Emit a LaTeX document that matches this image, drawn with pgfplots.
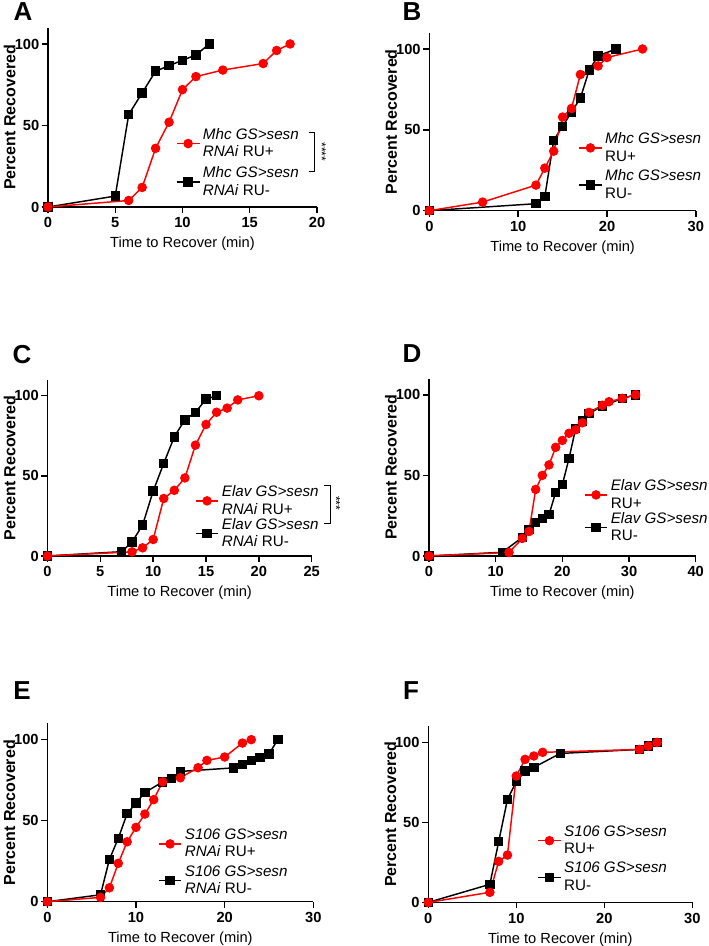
\documentclass[border=0pt]{standalone}
\usepackage{fontspec}
\setmainfont{Liberation Sans}
\usepackage{pgfplots}
\pgfplotsset{compat=1.18}
\definecolor{myred}{RGB}{255,0,0}
\pgfplotsset{
  panel/.style={
    scale only axis,
    axis lines*=left,
    xmin=0, ymin=0, ymax=110,
    ytick={0,50,100},
    tick align=outside,
    major tick length=4.5pt,
    axis line style={line width=1.1pt},
    every tick/.style={line width=1.1pt, black},
    tick label style={font=\fontsize{11}{13}\selectfont\bfseries},
    yticklabel style={xshift=1.5pt},
    /pgf/number format/assume math mode=true,
    xlabel={Time to Recover (min)},
    ylabel={Percent Recovered},
    xlabel style={font=\fontsize{11}{13}\selectfont},
    ylabel style={font=\fontsize{12}{14}\selectfont\bfseries, at={(axis description cs:-0.143,0.5)}, anchor=center},
    legend cell align=left,
    reverse legend,
    legend style={draw=none, fill=none, font=\fontsize{11.4}{13.1}\selectfont, row sep=1pt, cells={align=left}},
    clip=false,
    anchor=south west,
  },
  blk/.style={black, line width=1.1pt, mark=square*, mark size=3pt, mark options={solid}},
  rd/.style={myred, line width=1.1pt, mark=*, mark size=3pt, mark options={solid}},
}
\begin{document}
\begin{tikzpicture}
\useasboundingbox (0,0) rectangle (531pt,709.5pt);
% Panel letters
\begin{scope}[every node/.style={font=\fontsize{19.5}{20}\selectfont\bfseries}]
\node at (17.25pt,700.5pt) {A};
\node at (309pt,700.5pt) {B};
\node at (16.5pt,443.25pt) {C};
\node at (309pt,444pt) {D};
\node at (16.5pt,191.5pt) {E};
\node at (308.25pt,191.5pt) {F};
\end{scope}
% A
\begin{axis}[panel, at={(36pt,554.25pt)}, width=201.75pt, height=134.5pt, xmax=20, xtick={0,5,...,20},
  legend style={at={(0.46,0.47)},anchor=north west, row sep=2pt}]
\addplot[blk] coordinates {(0,0)(5,6.7)(6,56.7)(7,70)(8,83.3)(9,86.7)(10,90)(11,93.3)(12,100)};
\addlegendentry{\textit{Mhc GS>sesn}\\\textit{RNAi} RU-}
\addplot[rd] coordinates {(0,0)(6,4)(7,12)(8,36)(9,52)(10,72)(11,80)(13,84)(16,88)(17,96)(18,100)};
\addlegendentry{\textit{Mhc GS>sesn}\\\textit{RNAi} RU+}
\draw[line width=0.6pt] (axis cs:19.4,45.8) -- (axis cs:19.8,45.8) -- (axis cs:19.8,21.9) -- (axis cs:19.4,21.9);
\node[rotate=-90, font=\small] at (axis cs:20.35,33.9) {****};
\end{axis}
% B
\begin{axis}[panel, at={(322pt,551.5pt)}, width=199.9pt, height=133.4pt, xmax=30, xtick={0,10,20,30},
  legend style={at={(0.543,0.47)},anchor=north west}]
\addplot[blk] coordinates {(0,0)(12,4.3)(13,8.7)(14,43.5)(15,52.2)(16,60.9)(17,69.6)(18,87)(19,95.7)(21,100)};
\addlegendentry{\textit{Mhc GS>sesn}\\RU-}
\addplot[rd] coordinates {(0,0)(6,5.3)(12,15.8)(13,26.3)(14,36.8)(15,57.9)(16,63.2)(17,84.2)(19,89.5)(20,94.7)(24,100)};
\addlegendentry{\textit{Mhc GS>sesn}\\RU+}
\end{axis}
% C
\begin{axis}[panel, at={(35.6pt,292.5pt)}, width=198.2pt, height=132.2pt, xmax=25, xtick={0,5,...,25},
  legend style={at={(0.542,0.431)},anchor=north west, row sep=-2.5pt}]
\addplot[blk] coordinates {(0,0)(7,2.7)(8,8.7)(9,19.3)(10,40.5)(11,57.8)(12,74.4)(13,85)(14,89.6)(15,97.9)(16,100)};
\addlegendentry{\textit{Elav GS>sesn}\\\textit{RNAi} RU-}
\addplot[rd] coordinates {(0,0)(8,2.6)(9,5.1)(10,10.3)(11,35.9)(12,41)(13,48.7)(14,69.2)(15,82.1)(16,89.7)(17,92.3)(18,97.4)(20,100)};
\addlegendentry{\textit{Elav GS>sesn}\\\textit{RNAi} RU+}
\draw[line width=0.6pt] (axis cs:26.2,44.3) -- (axis cs:26.8,44.3) -- (axis cs:26.8,20.4) -- (axis cs:26.2,20.4);
\node[rotate=-90, font=\small] at (axis cs:27.3,32.9) {***};
\end{axis}
% D
\begin{axis}[panel, at={(321.75pt,292.5pt)}, width=200pt, height=133pt, xmax=40, xtick={0,10,...,40},
  legend style={at={(0.565,0.462)},anchor=north west, row sep=-2.5pt}]
\addplot[blk] coordinates {(0,0)(11,2.3)(14,11.6)(15,16.3)(16,20.9)(17,23.3)(18,25.6)(19,39.5)(20,44.2)(21,60.5)(22,79.1)(23,83.7)(24,88.4)(26,93)(29,97.7)(31,100)};
\addlegendentry{\textit{Elav GS>sesn}\\RU-}
\addplot[rd] coordinates {(0,0)(12,2.2)(14,10.9)(15,15.2)(16,41.3)(17,50)(18,56.5)(19,67.4)(20,71.7)(21,76.1)(22,78.3)(23,82.6)(24,89.1)(26,93.5)(27,95.7)(29,97.8)(31,100)};
\addlegendentry{\textit{Elav GS>sesn}\\RU+}
\end{axis}
% E
\begin{axis}[panel, at={(35.5pt,33.2pt)}, width=199.5pt, height=133.7pt, xmax=30, xtick={0,10,20,30},
  legend style={at={(0.40,0.44)},anchor=north west}]
\addplot[blk] coordinates {(0,0)(6,4.3)(7,26.1)(8,39.1)(9,54.3)(10,60.9)(11,67.4)(13,73.9)(14,76.1)(15,80.4)(21,82.6)(22,84.8)(23,87)(24,89.1)(25,91.3)(26,100)};
\addlegendentry{\textit{S106 GS>sesn}\\\textit{RNAi} RU-}
\addplot[rd] coordinates {(0,0)(6,2.7)(7,8.6)(8,23.7)(9,37)(10,45.9)(11,54.1)(12,63)(13,74)(15,76.5)(17,82.7)(18,87.2)(20,89.3)(22,97.9)(23,100)};
\addlegendentry{\textit{S106 GS>sesn}\\\textit{RNAi} RU+}
\end{axis}
% F
\begin{axis}[panel, at={(321.2pt,32.7pt)}, width=198pt, height=132pt, xmax=30, xtick={0,10,20,30},
  legend style={at={(0.397,0.468)},anchor=north west}]
\addplot[blk] coordinates {(0,0)(7,11.3)(8,37.9)(9,64.4)(10,75.4)(11,82.1)(12,84.4)(15,93.1)(24,95.6)(25,97.7)(26,100)};
\addlegendentry{\textit{S106 GS>sesn}\\RU-}
\addplot[rd] coordinates {(0,0)(7,6.3)(8,25.6)(9,29.6)(10,79)(11,89.4)(12,91.5)(13,93.8)(24,95.6)(25,97.7)(26,100)};
\addlegendentry{\textit{S106 GS>sesn}\\RU+}
\end{axis}
\end{tikzpicture}
\end{document}
